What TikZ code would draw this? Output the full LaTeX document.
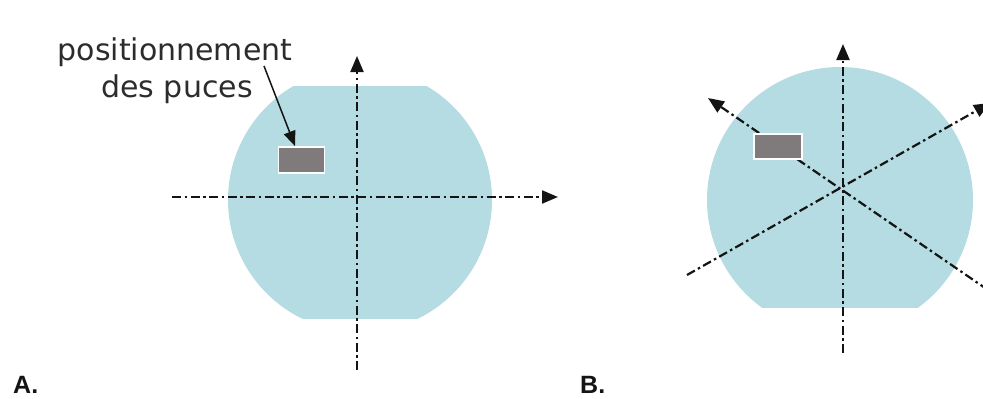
\documentclass[tikz,border=0pt]{standalone}
\usepackage{fontspec}
\setmainfont{DejaVu Sans}
\newfontfamily\letfont{Liberation Sans}
\usetikzlibrary{arrows.meta}
\definecolor{wafer}{RGB}{180,220,226}
\definecolor{chipgray}{RGB}{127,123,125}
\definecolor{ink}{RGB}{20,20,20}
\tikzset{
  axisline/.style={draw=ink, line width=2.2pt, dash pattern=on 9pt off 3.5pt on 2.5pt off 3.5pt,
     -{Triangle[length=16pt,width=13pt]}},
  chipbox/.style={fill=chipgray, draw=white, line width=1.8pt},
  labeltext/.style={font=\fontsize{30}{37}\selectfont, text=ink!90, inner sep=0pt},
  partlabel/.style={font=\letfont\bfseries\fontsize{25}{30}\selectfont, text=ink, inner sep=0pt, anchor=base west}
}
\begin{document}
\begin{tikzpicture}[x=1pt,y=-1pt]
\useasboundingbox (0,0) rectangle (983,399);
% ---------- A ----------
\begin{scope}
  \clip (0,86) rectangle (600,318);
  \fill[wafer] (360,200) circle (132);
\end{scope}
\coordinate (Av1) at (357,370);
\coordinate (Av2) at (357,56);
\coordinate (Ah1) at (172,197);
\coordinate (Ah2) at (558,197);
\draw[axisline] (Av1) -- (Av2);
\draw[axisline] (Ah1) -- (Ah2);
\node[chipbox, minimum width=46pt, minimum height=26pt, inner sep=0pt] (chipA) at (301.5,160) {};
\node[labeltext, anchor=base] (lab1) at (175,60) {positionnement};
\node[labeltext, anchor=base] (lab2) at (177,97) {des puces};
\coordinate (arrstart) at (264,66);
\draw[ink, line width=1.5pt, -{Triangle[length=15pt,width=12pt]}] (arrstart) -- (chipA.north west -| 295,0);
\node[partlabel] (labA) at (13,393) {A.};
% ---------- B ----------
\begin{scope}
  \clip (600,0) rectangle (983,307);
  \fill[wafer] (840,200) circle (133);
\end{scope}
\coordinate (Bv1) at (843,353);
\coordinate (Bv2) at (843,44);
\coordinate (Bd1a) at (687,275);
\coordinate (Bd1b) at (990,103);
\coordinate (Bd2a) at (988,290);
\coordinate (Bd2b) at (708,98);
\draw[axisline] (Bv1) -- (Bv2);
\draw[axisline] (Bd1a) -- (Bd1b);
\draw[axisline] (Bd2a) -- (Bd2b);
\node[chipbox, minimum width=48pt, minimum height=25pt, inner sep=0pt] (chipB) at (778,146.5) {};
\node[partlabel] (labB) at (580,393) {B.};
\end{tikzpicture}
\end{document}
